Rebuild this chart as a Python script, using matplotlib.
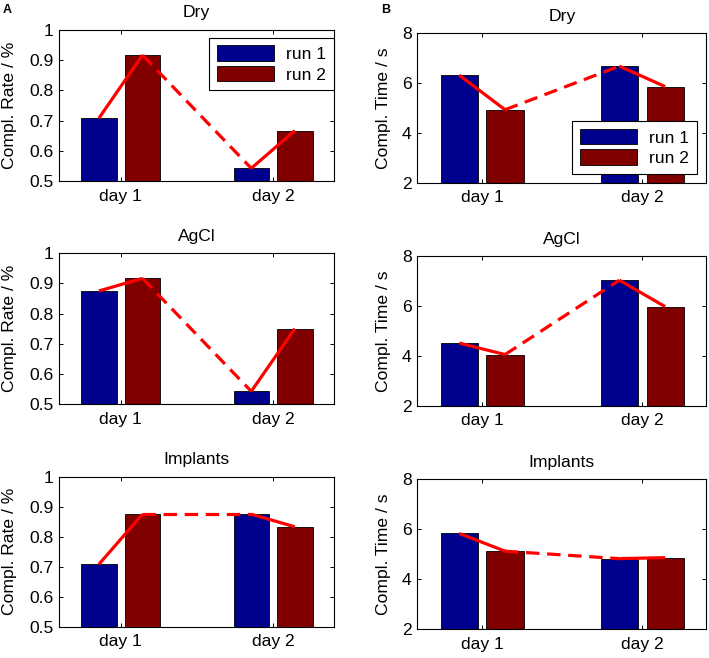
import matplotlib
matplotlib.use('Agg')
import matplotlib.pyplot as plt
import numpy as np

plt.rcParams['font.family'] = ['Liberation Sans', 'DejaVu Sans']

# data
days = ['day 1', 'day 2']
conditions = ['Dry', 'AgCl', 'Implants']
runs = ['run 1', 'run 2']

# completion rate (panel A), rows = conditions, cols = days
rate_run1 = [[0.708, 0.542], [0.875, 0.542], [0.708, 0.875]]
rate_run2 = [[0.917, 0.667], [0.917, 0.750], [0.875, 0.833]]
rate_ticks = [0.5, 0.6, 0.7, 0.8, 0.9, 1.0]
rate_ticklabels = ['0.5', '0.6', '0.7', '0.8', '0.9', '1']

# completion time (panel B)
time_run1 = [[6.32, 6.68], [4.51, 7.03], [5.83, 4.82]]
time_run2 = [[4.93, 5.86], [4.05, 5.97], [5.12, 4.86]]
time_ticks = [2, 4, 6, 8]
time_ticklabels = ['2', '4', '6', '8']

blue = (0, 0, 0.5625)
dred = (0.5, 0, 0)
W, H = 709, 658
FS = 12.6

fig = plt.figure(figsize=(W / 100, H / 100), dpi=100)

# axes boxes in pixels: (x0, y_top, width, height)
left_boxes = [(59, 30, 275, 151), (59, 253.3, 275, 150.7), (59, 476.7, 275, 150)]
right_boxes = [(417.3, 33.3, 289, 149.4), (417.3, 256, 289, 149.7), (417.3, 479.3, 289, 149.7)]


def make_ax(box):
    x0, yt, w, h = box
    return fig.add_axes([x0 / W, 1 - (yt + h) / H, w / W, h / H])


def draw_panel(ax, r1, r2, title, ylim, ticks, ticklabels, ylabel, labx):
    x = np.arange(1, len(days) + 1)
    off = 0.143
    bw = 0.232
    b1 = ax.bar(x - off, r1, bw, color=blue, edgecolor='black', linewidth=0.6, zorder=2)
    b2 = ax.bar(x + off, r2, bw, color=dred, edgecolor='black', linewidth=0.6, zorder=2)
    # red connecting lines: solid within a day, dashed between days
    lx = [x[0] - off, x[0] + off, x[1] - off, x[1] + off]
    ly = [r1[0], r2[0], r1[1], r2[1]]
    ax.plot(lx[0:2], ly[0:2], color='red', lw=2.3, zorder=3, solid_capstyle='butt')
    ax.plot(lx[2:4], ly[2:4], color='red', lw=2.3, zorder=3, solid_capstyle='butt')
    ax.plot(lx[1:3], ly[1:3], color='red', lw=2.3, zorder=3, dashes=(4.2, 2.4))
    ax.set_xlim(0.595, 2.4)
    ax.set_ylim(*ylim)
    ax.set_xticks(x)
    ax.set_xticklabels(days, fontsize=FS)
    ax.set_yticks(ticks)
    ax.set_yticklabels(ticklabels, fontsize=FS)
    ax.tick_params(direction='in', length=3, width=0.7, top=True, right=True)
    ax.tick_params(axis='x', pad=5.5)
    ax.tick_params(axis='y', pad=4)
    for s in ax.spines.values():
        s.set_linewidth(0.8)
    ax.set_title(title, fontsize=FS, pad=9)
    ax.set_ylabel(ylabel, fontsize=FS)
    ax.yaxis.set_label_coords(labx, 0.5)
    return b1, b2


leg_kw = dict(fontsize=FS, fancybox=False, edgecolor='black', framealpha=1,
              handlelength=3.25, handleheight=0.97, handletextpad=0.7,
              labelspacing=0.22, borderpad=0.45, borderaxespad=0)

for i, cond in enumerate(conditions):
    ax = make_ax(left_boxes[i])
    b1, b2 = draw_panel(ax, rate_run1[i], rate_run2[i], cond, (0.5, 1.0),
                        rate_ticks, rate_ticklabels, 'Compl. Rate / %', -0.153)
    if i == 0:
        lg = ax.legend([b1, b2], runs, loc='upper right', bbox_to_anchor=(1.0, 0.95), **leg_kw)
        lg.get_frame().set_linewidth(0.8)
        lg.set_zorder(5)

    ax = make_ax(right_boxes[i])
    b1, b2 = draw_panel(ax, time_run1[i], time_run2[i], cond, (2, 8),
                        time_ticks, time_ticklabels, 'Compl. Time / s', -0.091)
    if i == 0:
        lg = ax.legend([b1, b2], runs, loc='lower right', bbox_to_anchor=(0.969, 0.058), **leg_kw)
        lg.get_frame().set_linewidth(0.8)
        lg.set_zorder(5)

fig.text(3 / W, 1 - 13 / H, 'A', fontsize=9, fontweight='bold', va='baseline')
fig.text(381 / W, 1 - 13 / H, 'B', fontsize=9, fontweight='bold', va='baseline')

plt.savefig('out.png', dpi=100)
